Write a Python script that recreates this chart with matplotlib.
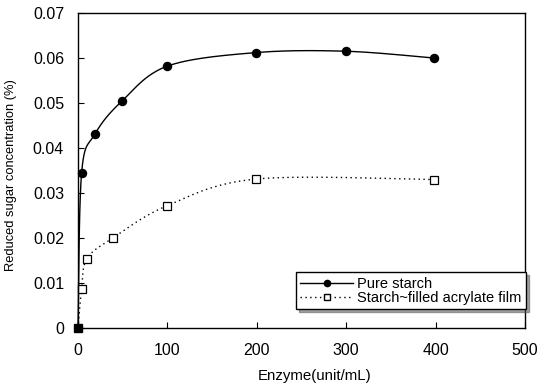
import matplotlib
matplotlib.use("Agg")
import matplotlib.pyplot as plt
import numpy as np

plt.rcParams["font.family"] = ["Liberation Sans", "DejaVu Sans"]

# enzyme amount (unit/mL) and reduced sugar concentration (%)
pure_x = [0, 4, 19, 49, 100, 199, 300, 398]
pure_y = [0.0, 0.0344, 0.0431, 0.0504, 0.0582, 0.0612, 0.0615, 0.0600]
film_x = [0, 4, 10, 39, 100, 199, 398]
film_y = [0.0, 0.0086, 0.0154, 0.0200, 0.0272, 0.0331, 0.0330]

x_ticks = [0, 100, 200, 300, 400, 500]
y_ticks = [0, 0.01, 0.02, 0.03, 0.04, 0.05, 0.06, 0.07]
y_labels = ["0", "0.01", "0.02", "0.03", "0.04", "0.05", "0.06", "0.07"]


def smooth(xs, ys, n=40):
    # Catmull-Rom style curve through the points, like a spreadsheet smoothed line
    xs = np.asarray(xs, float)
    ys = np.asarray(ys, float)
    px = np.concatenate([[xs[0]], xs, [xs[-1]]])
    py = np.concatenate([[ys[0]], ys, [ys[-1]]])
    out_x, out_y = [], []
    t = np.linspace(0, 1, n)
    for i in range(1, len(px) - 2):
        p0x, p1x, p2x, p3x = px[i - 1:i + 3]
        p0y, p1y, p2y, p3y = py[i - 1:i + 3]
        c1x = p1x + (p2x - p0x) / 6
        c1y = p1y + (p2y - p0y) / 6
        c2x = p2x - (p3x - p1x) / 6
        c2y = p2y - (p3y - p1y) / 6
        bx = (1 - t) ** 3 * p1x + 3 * (1 - t) ** 2 * t * c1x + 3 * (1 - t) * t ** 2 * c2x + t ** 3 * p2x
        by = (1 - t) ** 3 * p1y + 3 * (1 - t) ** 2 * t * c1y + 3 * (1 - t) * t ** 2 * c2y + t ** 3 * p2y
        out_x.extend(bx)
        out_y.extend(by)
    return np.array(out_x), np.array(out_y)


fig = plt.figure(figsize=(5.37, 3.86), dpi=100)
ax = fig.add_axes([78 / 537, 1 - 328 / 386, 447 / 537, 315 / 386])

dots = (0, (1, 2.5))

sx, sy = smooth(pure_x, pure_y)
ax.plot(sx, sy, color="black", lw=1.0, clip_on=False)
ax.plot(pure_x[1:], pure_y[1:], "o", color="black", ms=5.8, clip_on=False)

fx, fy = smooth(film_x, film_y)
ax.plot(fx, fy, color="black", lw=1.0, ls=dots, clip_on=False)
ax.plot(film_x[1:], film_y[1:], "s", mfc="white", mec="black", mew=0.9, ms=5.2, clip_on=False)
ax.plot(film_x[0], film_y[0], "s", color="black", ms=5.5, clip_on=False, zorder=5)

# legend proxies
ax.plot([], [], "-o", color="black", lw=1.0, ms=4.5, label="Pure starch")
ax.plot([], [], "s", ls=dots, color="black", lw=1.0, mfc="white", mec="black",
        ms=4.5, label="Starch~filled acrylate film")
handles, labels = ax.get_legend_handles_labels()
leg = ax.legend(handles[-2:], labels[-2:], loc="lower right", bbox_to_anchor=(1.002, 0.06),
                borderaxespad=0, fontsize=10.5, frameon=True, fancybox=False, shadow=True,
                edgecolor="black", borderpad=0.3, labelspacing=0.0, handlelength=3.6,
                handletextpad=0.3)
leg.get_frame().set_linewidth(1.0)

ax.set_xlim(0, 500)
ax.set_ylim(0, 0.07)
ax.set_xticks(x_ticks)
ax.set_yticks(y_ticks)
ax.set_yticklabels(y_labels)
ax.tick_params(direction="in", length=4, labelsize=11.5)
ax.tick_params(axis="y", pad=10)
ax.tick_params(axis="x", pad=11)
for s in ax.spines.values():
    s.set_linewidth(1.0)

ax.set_xlabel("Enzyme(unit/mL)", fontsize=10.8)
ax.xaxis.set_label_coords(0.53, -0.13)
ax.set_ylabel("Reduced sugar concentration (%)", fontsize=9.3)
ax.yaxis.set_label_coords(-0.136, 0.486)

fig.savefig("out.png", dpi=100)
